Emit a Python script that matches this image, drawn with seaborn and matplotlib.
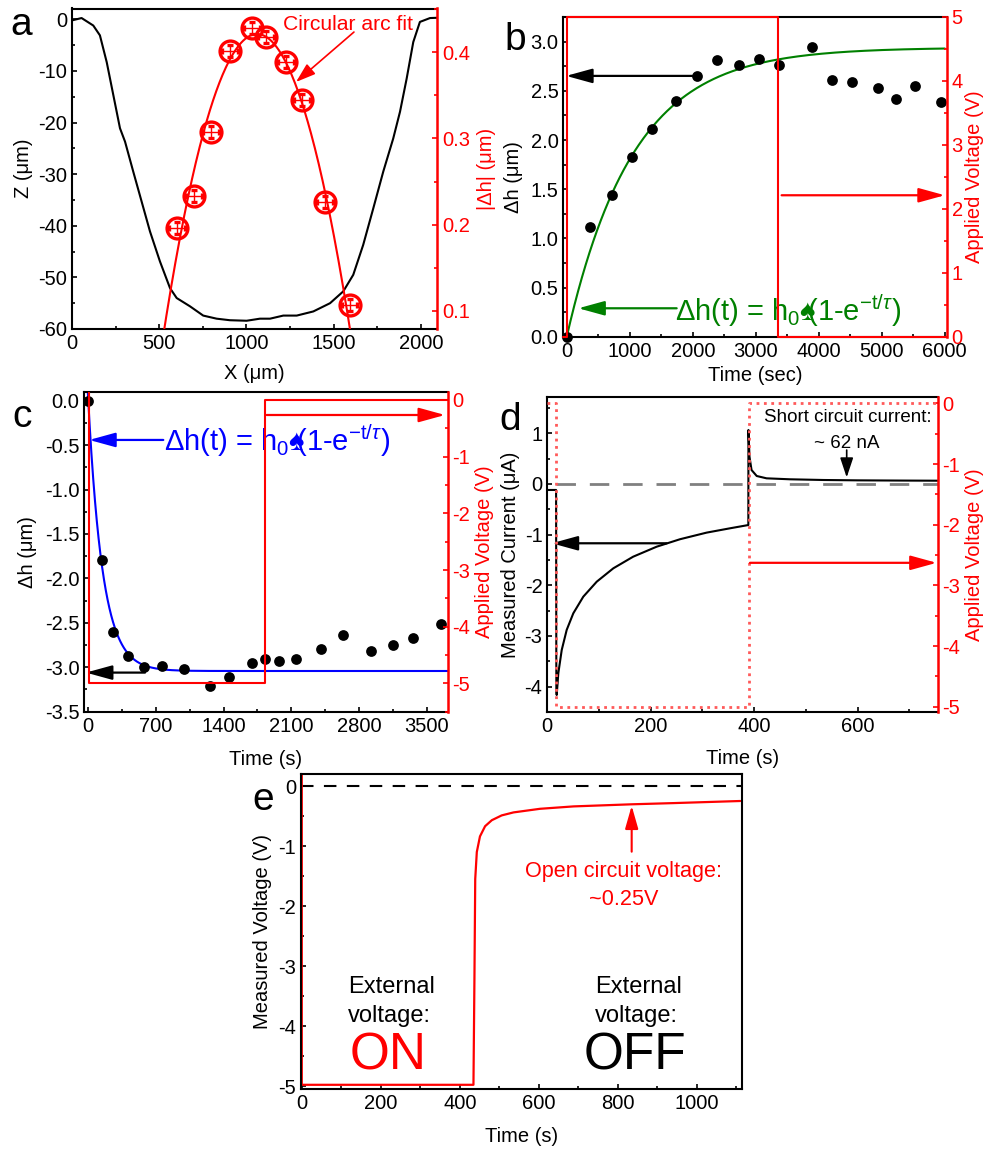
import numpy as np
import matplotlib
matplotlib.use("Agg")
import matplotlib.pyplot as plt
import seaborn as sns
from matplotlib.ticker import MultipleLocator

# ---------------- data ----------------
# a: surface profile (black) and |dh| across the membrane (red)
profile_x = [0, 55, 122, 160, 199, 237, 275, 304, 351, 399, 447, 504, 562, 600,
             676, 752, 829, 905, 1001, 1077, 1135, 1211, 1288, 1383, 1479, 1555,
             1612, 1669, 1727, 1784, 1841, 1880, 1918, 1956, 1994, 2052, 2092]
profile_z = [-0.2, 0.25, -1.2, -3.1, -8.3, -14.7, -21.1, -23.7, -29.5, -35.3,
             -41.1, -46.9, -52.1, -54.0, -55.6, -57.4, -58.0, -58.3, -58.4, -58.0,
             -58.0, -57.4, -57.4, -56.6, -55.0, -52.7, -49.5, -43.7, -36.6, -29.5,
             -23.1, -17.9, -11.5, -4.4, -0.5, 0.25, 0.3]
dh_x = [603, 701, 795, 905, 1033, 1110, 1225, 1320, 1450, 1591]
dh_y = [0.196, 0.233, 0.307, 0.401, 0.428, 0.4175, 0.389, 0.345, 0.226, 0.107]
dh_xerr = 45
dh_yerr = 0.007
arc_xc, arc_top, arc_r = 1061, 0.421, 414000.0

# b: swelling under +5 V
b_t = [0, 370, 714, 1031, 1358, 1733, 2062, 2379, 2738, 3045, 3362, 3896,
       4203, 4520, 4932, 5218, 5529, 5932]
b_dh = [0, 1.12, 1.44, 1.825, 2.11, 2.40, 2.655, 2.81, 2.764, 2.82, 2.76, 2.95,
        2.61, 2.594, 2.527, 2.418, 2.55, 2.39]
b_h0, b_tau = 2.94, 1050
b_volt_t = [-55, 10, 10, 3356, 3356, 6030]
b_volt_v = [0, 0, 5, 5, 0, 0]

# c: shrinking under -5 V
c_t = [0, 138, 252, 407, 580, 759, 994, 1259, 1459, 1690, 1828, 1976, 2149,
       2408, 2638, 2925, 3149, 3356, 3646]
c_dh = [0, -1.793, -2.603, -2.873, -2.993, -2.986, -3.023, -3.21, -3.106, -2.948,
        -2.91, -2.926, -2.91, -2.798, -2.637, -2.813, -2.753, -2.674, -2.513]
c_h0, c_tau = -3.042, 150
c_volt_t = [10, 10, 1828, 1828, 3718]
c_volt_v = [0.15, -5, -5, 0, 0]

# d: measured current
d_t = [0, 17, 17.5, 18.2, 21.3, 27.9, 37.5, 50.3, 69.6, 95.6, 127.7, 166, 211.6,
       256.7, 308, 353, 388.8, 389, 391, 395, 405, 424, 469, 534, 600, 680, 755]
d_i = [-0.118, -0.118, -4.1, -4.164, -3.736, -3.276, -2.88, -2.552, -2.224, -1.928,
       -1.664, -1.435, -1.237, -1.09, -0.96, -0.875, -0.81, 1.066, 0.54, 0.276,
       0.158, 0.112, 0.093, 0.079, 0.072, 0.068, 0.065]
d_volt_t = [0, 17, 17, 390, 390, 755]
d_volt_v = [0, 0, -5, -5, 0, 0]

# e: measured voltage
e_t = [0, 0, 434.5, 437, 439, 443, 451, 464, 481, 506, 536, 603, 688, 835, 941, 1110]
e_v = [0.3, -4.98, -4.98, -3.2, -1.55, -1.1, -0.84, -0.67, -0.57, -0.49, -0.44,
       -0.38, -0.34, -0.305, -0.285, -0.25]

# ---------------- style ----------------
sns.set_style("ticks")
plt.rcParams['font.family'] = ['Liberation Sans', 'DejaVu Sans']
plt.rcParams['mathtext.fontset'] = 'custom'
plt.rcParams['mathtext.rm'] = 'Liberation Sans'
plt.rcParams['mathtext.it'] = 'Liberation Sans:italic'
plt.rcParams['mathtext.sf'] = 'Liberation Sans'
plt.rcParams['mathtext.fallback'] = 'stixsans'
plt.rcParams['axes.unicode_minus'] = False
plt.rcParams['xtick.direction'] = 'in'
plt.rcParams['ytick.direction'] = 'in'
plt.rcParams['text.color'] = 'black'
plt.rcParams['axes.labelcolor'] = 'black'

RED = '#ff0000'
FS = 14.5

W, H = 987, 1149
fig = plt.figure(figsize=(W / 100, H / 100), dpi=100)


def px_axes(l, t, r, b):
    return fig.add_axes([l / W, 1 - b / H, (r - l) / W, (b - t) / H])


def arrow(ax, x0, y0, x1, y1, color, lw=1.6, hl=0.8, hw=0.22):
    ax.annotate('', xy=(x1, y1), xytext=(x0, y0),
                arrowprops=dict(arrowstyle=f'-|>,head_length={hl},head_width={hw}',
                                color=color, lw=lw, mutation_scale=20,
                                shrinkA=0, shrinkB=0), annotation_clip=False)


def frame(ax, xmaj, xmin, ymaj, ymin, twin=None, tmaj=None, tmin=None):
    for s in ax.spines.values():
        s.set_visible(True)
        s.set_linewidth(1.5)
        s.set_color('black')
    ax.tick_params(which='both', labelsize=FS, width=1.2, colors='black',
                   top=False, right=False)
    ax.tick_params(which='major', length=3.5)
    ax.tick_params(which='minor', length=2.5)
    ax.xaxis.set_major_locator(MultipleLocator(xmaj))
    ax.xaxis.set_minor_locator(MultipleLocator(xmin))
    ax.yaxis.set_major_locator(MultipleLocator(ymaj))
    ax.yaxis.set_minor_locator(MultipleLocator(ymin))
    if twin is not None:
        ax.spines['right'].set_visible(False)
        for k in ['left', 'top', 'bottom']:
            twin.spines[k].set_visible(False)
        twin.spines['right'].set_visible(True)
        twin.spines['right'].set_color(RED)
        twin.spines['right'].set_linewidth(1.8)
        twin.tick_params(axis='y', which='both', labelsize=FS, width=1.2,
                         colors=RED, direction='in')
        twin.tick_params(axis='y', which='major', length=3.5)
        twin.tick_params(axis='y', which='minor', length=2.5)
        twin.yaxis.set_major_locator(MultipleLocator(tmaj))
        twin.yaxis.set_minor_locator(MultipleLocator(tmin))


def panel_label(letter, px, py):
    fig.text(px / W, 1 - py / H, letter, fontsize=28, ha='center', va='center')


formula = r'$\Delta$h(t) = h$_0$♠$\!\!$(1-e$^{\mathrm{-t/}\tau}$)'

# ---------------- panel a ----------------
ax = px_axes(72, 8.5, 437, 329)
ax2 = ax.twinx()
sns.lineplot(x=profile_x, y=profile_z, estimator=None, sort=False,
             color='black', linewidth=1.5, ax=ax)
arc_x = np.linspace(515, 1612, 300)
arc_y = arc_top - arc_r + np.sqrt(arc_r ** 2 - (arc_x - arc_xc) ** 2)
sns.lineplot(x=arc_x, y=arc_y, estimator=None, sort=False, color=RED,
             linewidth=1.5, ax=ax2)
ax2.errorbar(dh_x, dh_y, xerr=dh_xerr, yerr=dh_yerr, fmt='o', ms=15,
             mfc='none', mec=RED, mew=2.4, ecolor=RED, elinewidth=1.0,
             capsize=2.5, zorder=5)
ax.set_xlim(0, 2092)
ax.set_ylim(-60, 2.1)
ax2.set_ylim(0.079, 0.4506)
frame(ax, 500, 250, 10, 5, ax2, 0.1, 0.05)
ax.set_xlabel('X (μm)', fontsize=FS)
ax.set_ylabel('Z (μm)', fontsize=FS)
ax2.set_ylabel('|Δh| (μm)', fontsize=FS, color=RED)
ax.xaxis.set_label_coords(0.5, -0.109)
ax.yaxis.set_label_coords(-0.108, 0.5)
ax2.yaxis.set_label_coords(1.11, 0.5)
ax2.text(1580, 0.426, 'Circular arc fit', color=RED, fontsize=15.2,
         ha='center', va='baseline')
arrow(ax2, 1616, 0.4233, 1284, 0.3654, RED, lw=1.2, hl=0.6, hw=0.2)
panel_label('a', 21, 25)

# ---------------- panel b ----------------
ax = px_axes(563.3, 16.7, 946.7, 336.7)
ax2 = ax.twinx()
b_fit_t = np.linspace(0, 6000, 400)
b_fit = b_h0 * (1 - np.exp(-b_fit_t / b_tau))
sns.lineplot(x=b_fit_t, y=b_fit, estimator=None, sort=False, color='#008000',
             linewidth=1.5, ax=ax)
sns.scatterplot(x=b_t, y=b_dh, color='black', s=60, edgecolor='black',
                linewidth=0, clip_on=False, zorder=4, ax=ax)
sns.lineplot(x=b_volt_t, y=b_volt_v, estimator=None, sort=False, color=RED,
             linewidth=1.5, clip_on=False, ax=ax2)
ax.set_xlim(-55, 6030)
ax.set_ylim(0, 3.254)
ax2.set_ylim(0, 5)
frame(ax, 1000, 500, 0.5, 0.25, ax2, 1, 0.5)
ax.yaxis.set_major_formatter(matplotlib.ticker.FormatStrFormatter('%.1f'))
ax.set_xlabel('Time (sec)', fontsize=FS)
ax.set_ylabel('Δh (μm)', fontsize=FS)
ax2.set_ylabel('Applied Voltage (V)', fontsize=FS, color=RED)
ax.xaxis.set_label_coords(0.5, -0.093)
ax.yaxis.set_label_coords(-0.104, 0.5)
ax2.yaxis.set_label_coords(1.048, 0.5)
arrow(ax, 2008, 2.652, -10, 2.652, 'black')
arrow(ax2, 3410, 2.21, 6000, 2.21, RED)
arrow(ax, 1744, 0.289, 184, 0.289, '#008000')
ax.text(1718, 0.163, formula, color='#008000', fontsize=21, ha='left',
        va='baseline')
panel_label('b', 515, 40)

# ---------------- panel c ----------------
ax = px_axes(84.3, 391.7, 447.7, 711.7)
ax2 = ax.twinx()
c_fit_t = np.linspace(-5, 3718, 800)
c_fit = c_h0 * (1 - np.exp(-c_fit_t / c_tau))
sns.lineplot(x=c_fit_t, y=c_fit, estimator=None, sort=False, color='#0000ff',
             linewidth=1.5, ax=ax)
sns.scatterplot(x=c_t, y=c_dh, color='black', s=60, edgecolor='black',
                linewidth=0, clip_on=False, zorder=4, ax=ax)
sns.lineplot(x=c_volt_t, y=c_volt_v, estimator=None, sort=False, color=RED,
             linewidth=1.5, ax=ax2)
ax.set_xlim(-41, 3718)
ax.set_ylim(-3.5, 0.101)
ax2.set_ylim(-5.5, 0.146)
frame(ax, 700, 350, 0.5, 0.25, ax2, 1, 0.5)
ax.yaxis.set_major_formatter(matplotlib.ticker.FormatStrFormatter('%.1f'))
ax.set_xlabel('Time (s)', fontsize=FS)
ax.set_ylabel('Δh (μm)', fontsize=FS)
ax2.set_ylabel('Applied Voltage (V)', fontsize=FS, color=RED)
ax.xaxis.set_label_coords(0.5, -0.12)
ax.yaxis.set_label_coords(-0.131, 0.5)
ax2.yaxis.set_label_coords(1.075, 0.5)
arrow(ax, 776, -0.442, 10, -0.442, '#0000ff')
arrow(ax, 587, -3.06, -24, -3.06, 'black')
arrow(ax2, 1845, -0.265, 3690, -0.265, RED)
ax.text(783, -0.566, formula, color='#0000ff', fontsize=21, ha='left',
        va='baseline')
panel_label('c', 22, 417)

# ---------------- panel d ----------------
ax = px_axes(547.3, 396.7, 937.7, 712.3)
ax2 = ax.twinx()
ax.axhline(0, xmin=17 / 755, color='#808080', linewidth=2, dashes=(7, 5))
sns.lineplot(x=d_t, y=d_i, estimator=None, sort=False, color='black',
             linewidth=1.5, ax=ax)
sns.lineplot(x=d_volt_t, y=d_volt_v, estimator=None, sort=False,
             color='#ff5a5a', linewidth=2, linestyle=':', ax=ax2)
ax.set_xlim(0, 755)
ax.set_ylim(-4.506, 1.723)
ax2.set_ylim(-5.09, 0.11)
frame(ax, 200, 100, 1, 0.5, ax2, 1, 0.5)
ax.set_xlabel('Time (s)', fontsize=FS)
ax.set_ylabel('Measured Current (μA)', fontsize=FS)
ax2.set_ylabel('Applied Voltage (V)', fontsize=FS, color=RED)
ax.xaxis.set_label_coords(0.5, -0.117)
ax.yaxis.set_label_coords(-0.07, 0.5)
ax2.yaxis.set_label_coords(1.07, 0.5)
arrow(ax, 231, -1.17, 8.5, -1.17, 'black')
arrow(ax2, 392, -2.627, 753, -2.627, RED)
ax.text(582, 1.218, 'Short circuit current:', fontsize=13.5, ha='center',
        va='baseline')
ax.text(579, 0.704, '~ 62 nA', fontsize=13.5, ha='center', va='baseline')
arrow(ax, 579, 0.67, 579, 0.13, 'black', lw=1.2, hl=0.6, hw=0.2)
panel_label('d', 510, 420)

# ---------------- panel e ----------------
ax = px_axes(301, 774.3, 742.3, 1089.3)
ax.axhline(0, color='black', linewidth=1.5, dashes=(6, 5))
sns.lineplot(x=e_t, y=e_v, estimator=None, sort=False, color=RED,
             linewidth=1.6, ax=ax)
ax.set_xlim(-2, 1115)
ax.set_ylim(-5.055, 0.195)
frame(ax, 200, 100, 1, 0.5)
ax.set_xlabel('Time (s)', fontsize=FS)
ax.set_ylabel('Measured Voltage (V)', fontsize=FS)
ax.xaxis.set_label_coords(0.5, -0.119)
ax.yaxis.set_label_coords(-0.066, 0.5)
ax.text(226, -3.455, 'External', fontsize=17, ha='center', va='baseline')
ax.text(222, -3.928, 'voltage:', fontsize=17, ha='center', va='baseline')
ax.text(219, -4.733, 'ON', fontsize=37, color=RED, ha='center', va='baseline')
ax.text(853, -3.455, 'External', fontsize=17, ha='center', va='baseline')
ax.text(848, -3.928, 'voltage:', fontsize=17, ha='center', va='baseline')
ax.text(844, -4.733, 'OFF', fontsize=37, ha='center', va='baseline')
ax.text(814, -1.511, 'Open circuit voltage:', fontsize=15.6, color=RED,
        ha='center', va='baseline')
ax.text(814, -1.983, '~0.25V', fontsize=15.6, color=RED, ha='center',
        va='baseline')
arrow(ax, 835, -1.095, 835, -0.33, RED, lw=1.5, hl=0.7, hw=0.2)
panel_label('e', 263, 800)

fig.savefig('out.png', dpi=100)
